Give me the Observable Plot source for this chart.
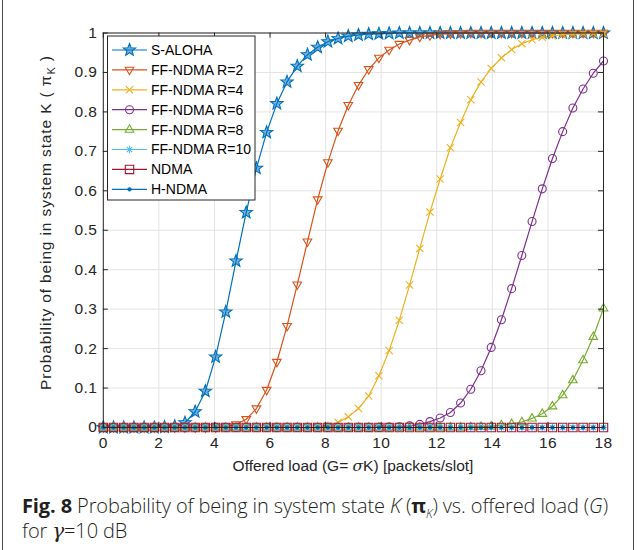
<!DOCTYPE html>
<html><head><meta charset="utf-8">
<script src="https://cdn.jsdelivr.net/npm/d3@7"></script>
<script src="https://cdn.jsdelivr.net/npm/@observablehq/plot@0.6"></script>
<style>
body{margin:0;background:#fff;}
#fig{position:relative;width:637px;height:550px;overflow:hidden;}
#frame{position:absolute;left:2px;top:0;width:632px;height:550px;border-left:1px solid #4a4a4a;border-right:1px solid #4a4a4a;box-sizing:border-box;}
#chart{position:absolute;left:0;top:0;}
#caption{position:absolute;left:22px;top:493px;width:612px;font-family:"Open Sans","Noto Sans",sans-serif;font-weight:300;font-size:20px;line-height:25px;color:#231f20;letter-spacing:-0.12px;white-space:nowrap;}
#caption b{font-weight:700;}
#caption .sub{position:relative;top:5px;font-size:12px;font-style:italic;line-height:0;}
</style></head>
<body>
<div id="fig"><div id="frame"></div><div id="chart"></div>
<div id="caption"><b>Fig. 8</b> Probability of being in system state <i>K</i> (<b>π</b><span class="sub">K</span>) vs. offered load (<i>G</i>)<br>for <i style="font-family:'DejaVu Serif',serif">γ</i>=10 dB</div>
</div>
<script>
// x grid (offered load G)
const G = [0,0.367,0.735,1.102,1.469,1.837,2.204,2.571,2.939,3.306,3.673,4.041,4.408,4.776,5.143,5.510,5.878,6.245,6.612,6.980,7.347,7.714,8.082,8.449,8.816,9.184,9.551,9.918,10.286,10.653,11.020,11.388,11.755,12.122,12.490,12.857,13.224,13.592,13.959,14.327,14.694,15.061,15.429,15.796,16.163,16.531,16.898,17.265,17.633,18];
const sAloha = [0,0,0,0,0,0,0.001,0.003,0.012,0.040,0.092,0.179,0.293,0.422,0.545,0.657,0.748,0.821,0.876,0.916,0.945,0.964,0.978,0.986,0.992,0.995,0.997,0.998,0.999,1,1,1,1,1,1,1,1,1,1,1,1,1,1,1,1,1,1,1,1,1];
const ffR2 = [0,0,0,0,0,0,0,0,0,0,0,0,0.002,0.008,0.021,0.048,0.095,0.166,0.257,0.362,0.471,0.578,0.672,0.752,0.817,0.868,0.908,0.937,0.957,0.972,0.982,0.990,0.994,0.997,0.998,0.999,1,1,1,1,1,1,1,1,1,1,1,1,1,1];
const ffR4 = [0,0,0,0,0,0,0,0,0,0,0,0,0,0,0,0,0,0,0,0,0,0.001,0.004,0.013,0.027,0.048,0.080,0.131,0.195,0.272,0.361,0.454,0.546,0.630,0.709,0.773,0.831,0.876,0.910,0.937,0.958,0.973,0.983,0.989,0.993,0.996,0.997,0.998,0.999,0.999];
const ffR6 = [0,0,0,0,0,0,0,0,0,0,0,0,0,0,0,0,0,0,0,0,0,0,0,0,0,0,0,0,0.001,0.002,0.004,0.008,0.015,0.024,0.038,0.062,0.097,0.144,0.203,0.273,0.352,0.436,0.522,0.605,0.682,0.750,0.810,0.858,0.898,0.929];
const ffR8 = [0,0,0,0,0,0,0,0,0,0,0,0,0,0,0,0,0,0,0,0,0,0,0,0,0,0,0,0,0,0,0,0,0,0,0,0,0.001,0.002,0.003,0.006,0.009,0.014,0.023,0.035,0.054,0.082,0.120,0.171,0.230,0.302];
const ffR10 = [0,0,0,0,0,0,0,0,0,0,0,0,0,0,0,0,0,0,0,0,0,0,0,0,0,0,0,0,0,0,0,0,0,0,0,0,0,0,0,0,0,0,0,0,0,0,0,0,0,0];
const ndma = [0,0,0,0,0,0,0,0,0,0,0,0,0,0,0,0,0,0,0,0,0,0,0,0,0,0,0,0,0,0,0,0,0,0,0,0,0,0,0,0,0,0,0,0,0,0,0,0,0,0];
const hNdma = [0,0,0,0,0,0,0,0,0,0,0,0,0,0,0,0,0,0,0,0,0,0,0,0,0,0,0,0,0,0,0,0,0,0,0,0,0,0,0,0,0,0,0,0,0,0,0,0,0,0];
const seriesNames = ["S-ALOHA","FF-NDMA R=2","FF-NDMA R=4","FF-NDMA R=6","FF-NDMA R=8","FF-NDMA R=10","NDMA","H-NDMA"];
const seriesValues = [sAloha, ffR2, ffR4, ffR6, ffR8, ffR10, ndma, hNdma];
const seriesColors = ["#0072BD","#D95319","#EDB120","#7E2F8E","#77AC30","#4DBEEE","#A2142F","#0072BD"];
const xTicks = [0,2,4,6,8,10,12,14,16,18];
const yTicks = [0,0.1,0.2,0.3,0.4,0.5,0.6,0.7,0.8,0.9,1];
const yTickLabels = ["0","0.1","0.2","0.3","0.4","0.5","0.6","0.7","0.8","0.9","1"];

// marker shapes
function sym(fn){return {draw(c,size){const r=Math.sqrt(size/Math.PI);fn(c,r);}};}
const starSym = sym((c,r)=>{const R=r*1.3,ri=R*0.42;for(let k=0;k<10;k++){const a=-Math.PI/2+k*Math.PI/5,rr=k%2?ri:R,x=rr*Math.cos(a),y=rr*Math.sin(a);k?c.lineTo(x,y):c.moveTo(x,y);}c.closePath();});
const triDown = sym((c,r)=>{const R=r*1.2;c.moveTo(0,R);c.lineTo(-R*0.9,-R*0.55);c.lineTo(R*0.9,-R*0.55);c.closePath();});
const triUp = sym((c,r)=>{const R=r*1.2;c.moveTo(0,-R);c.lineTo(-R*0.9,R*0.55);c.lineTo(R*0.9,R*0.55);c.closePath();});
const xSym = sym((c,r)=>{c.moveTo(-r,-r);c.lineTo(r,r);c.moveTo(-r,r);c.lineTo(r,-r);});
const astSym = sym((c,r)=>{const d=r*0.72;c.moveTo(-d,-d);c.lineTo(d,d);c.moveTo(-d,d);c.lineTo(d,-d);c.moveTo(-r,0);c.lineTo(r,0);c.moveTo(0,-r);c.lineTo(0,r);});
const sqSym = sym((c,r)=>{c.rect(-r,-r,2*r,2*r);});
const circSym = sym((c,r)=>{c.moveTo(r,0);c.arc(0,0,r,0,2*Math.PI);});
const dotSym = sym((c,r)=>{c.moveTo(r,0);c.arc(0,0,r,0,2*Math.PI);});
const styles = [
  {symbol:starSym, r:5.0, fill:"#0072BD", fillOpacity:0.55},
  {symbol:triDown, r:4.0, fill:"none"},
  {symbol:xSym, r:3.6, fill:"none"},
  {symbol:circSym, r:4.0, fill:"none"},
  {symbol:triUp, r:4.0, fill:"none"},
  {symbol:astSym, r:3.8, fill:"none"},
  {symbol:sqSym, r:4.2, fill:"none"},
  {symbol:dotSym, r:1.6, fill:"#0072BD"}
];

const marks = [
  Plot.gridX(xTicks, {stroke:"#e3e3e3", strokeOpacity:1}),
  Plot.gridY(yTicks, {stroke:"#e3e3e3", strokeOpacity:1}),
];
seriesValues.forEach((vals, s) => {
  const rows = vals.map((v,i)=>({g:G[i], v}));
  marks.push(Plot.line(rows, {x:"g", y:"v", stroke:seriesColors[s], strokeWidth:1.2}));
  const st = styles[s];
  marks.push(Plot.dot(rows, {x:"g", y:"v", symbol:st.symbol, r:st.r, stroke:seriesColors[s], strokeWidth:1.1, fill:st.fill, fillOpacity:st.fillOpacity ?? 1}));
});
marks.push(
  Plot.ruleX(xTicks, {y1:0, y2:0.013, stroke:"#262626"}),
  Plot.ruleX(xTicks, {y1:1, y2:0.987, stroke:"#262626"}),
  Plot.ruleY(yTicks, {x1:0, x2:0.18, stroke:"#262626"}),
  Plot.ruleY(yTicks, {x1:18, x2:17.82, stroke:"#262626"}),
  Plot.frame({stroke:"#262626"}),
  Plot.axisX(xTicks, {tickSize:0, tickPadding:9, label:null, fill:"#262626"}),
  Plot.axisY(yTicks, {tickSize:0, tickPadding:6, label:null, fill:"#262626", tickFormat:(d,i)=>yTickLabels[i]})
);

const chart = Plot.plot({
  width:637, height:480,
  marginLeft:102.8, marginRight:34, marginTop:32.5, marginBottom:53,
  style:{fontFamily:"'Liberation Sans', Arial, sans-serif", color:"#262626", background:"transparent"},
  x:{domain:[0,18]},
  y:{domain:[0,1]},
  marks
});
document.getElementById("chart").appendChild(chart);
const svg = d3.select(chart);
// tick label size
svg.selectAll("g[aria-label='x-axis tick label'] text, g[aria-label='y-axis tick label'] text")
  .style("font-size","15.5px").style("letter-spacing","0.4px");

const FONT = "'Liberation Sans', Arial, sans-serif";
// axis labels
const yl = svg.append("text").attr("transform","translate(46,223) rotate(-90)").attr("text-anchor","middle")
  .attr("textLength",334).attr("lengthAdjust","spacing")
  .style("font-family",FONT).style("font-size","15.5px").attr("fill","#262626").attr("dy","0.35em");
yl.append("tspan").text("Probability of being in system state K ( π");
yl.append("tspan").style("font-size","11px").attr("dy",4).text("K");
yl.append("tspan").attr("dy",-4).text(" )");
const xl = svg.append("text").attr("x",353).attr("y",466).attr("text-anchor","middle").attr("dy","0.35em")
  .style("font-family",FONT).style("font-size","15.5px").attr("fill","#262626");
xl.append("tspan").text("Offered load (G= ");
xl.append("tspan").style("font-family","'DejaVu Serif',serif").style("font-style","italic").text("σ");
xl.append("tspan").text("K) [packets/slot]");

// legend
const lg = svg.append("g").attr("text-anchor","start");
lg.append("rect").attr("x",107.5).attr("y",36).attr("width",147.5).attr("height",164).attr("fill","#fff").attr("stroke","#262626");
seriesNames.forEach((name,i)=>{
  const y = 50 + i*19.9;
  lg.append("line").attr("x1",112).attr("x2",147).attr("y1",y).attr("y2",y).attr("stroke",seriesColors[i]).attr("stroke-width",1.2);
  const p = d3.path(); styles[i].symbol.draw(p, styles[i].r*styles[i].r*Math.PI);
  lg.append("path").attr("d",p.toString()).attr("transform",`translate(129.5,${y})`).attr("stroke",seriesColors[i]).attr("stroke-width",1.1)
    .attr("fill",styles[i].fill).attr("fill-opacity",styles[i].fillOpacity ?? 1);
  lg.append("text").attr("x",151).attr("y",y).attr("dy","0.35em").attr("text-anchor","start").style("font-family",FONT)
    .style("font-size","14px").attr("fill","#000").text(name);
});
</script>
</body></html>
